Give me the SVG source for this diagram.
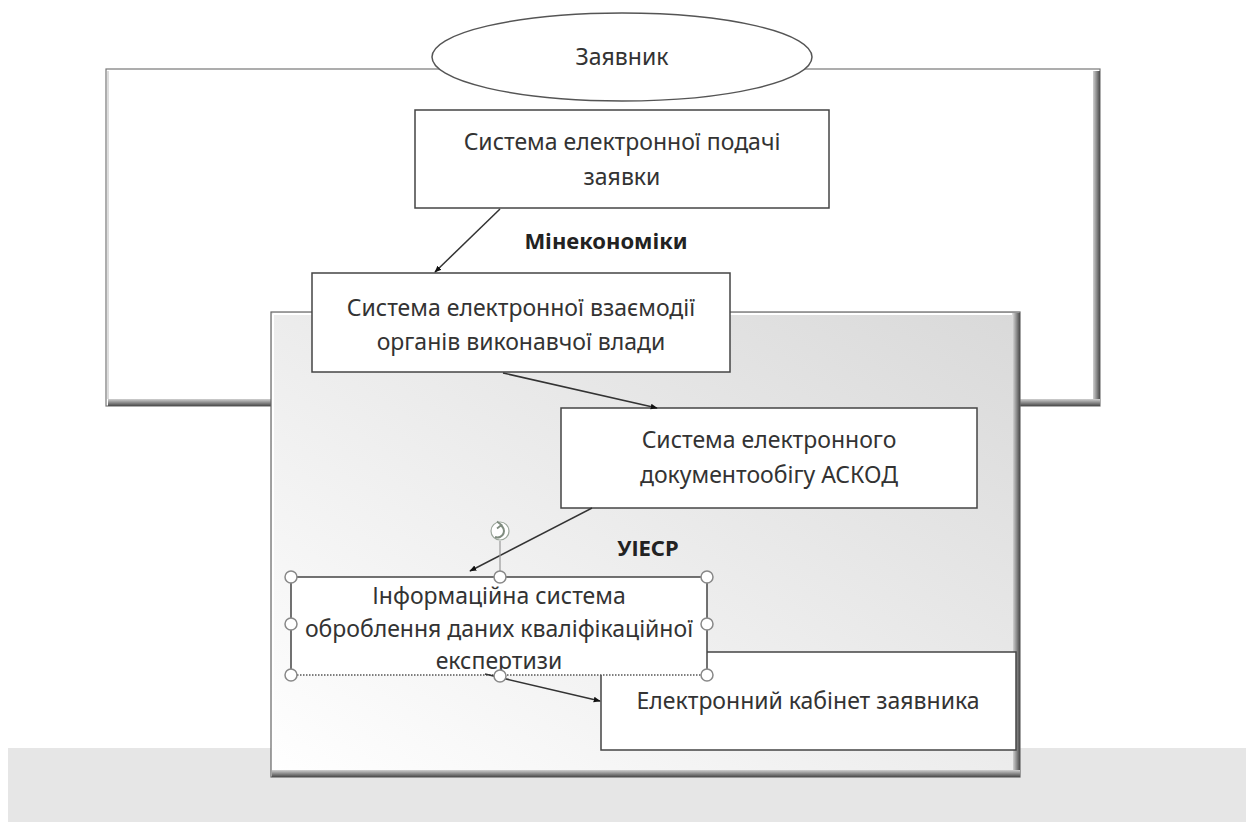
<svg xmlns="http://www.w3.org/2000/svg" width="1246" height="825" viewBox="0 0 1246 825">
<defs>
<linearGradient id="gFrame" x1="1" y1="0" x2="0" y2="1">
<stop offset="0" stop-color="#d9d9d9"/>
<stop offset="0.55" stop-color="#eeeeee"/>
<stop offset="1" stop-color="#ffffff"/>
</linearGradient>
<linearGradient id="gShV" x1="0" y1="0" x2="0" y2="1">
<stop offset="0" stop-color="#d0d0d0"/>
<stop offset="1" stop-color="#4a4a4a"/>
</linearGradient>
<linearGradient id="gShH" x1="0" y1="0" x2="1" y2="0">
<stop offset="0" stop-color="#d0d0d0"/>
<stop offset="1" stop-color="#4a4a4a"/>
</linearGradient>
<marker id="arr" viewBox="0 0 10 10" refX="9" refY="5" markerWidth="7" markerHeight="7" orient="auto" markerUnits="userSpaceOnUse">
<path d="M0,1 L10,5 L0,9 z" fill="#111"/>
</marker>
<style>
.box{fill:#fff;stroke:#444;stroke-width:1.5}
.t{font-family:"Noto Sans","Open Sans",sans-serif;font-size:23px;fill:#333;text-anchor:middle}
.b{font-weight:bold;fill:#222;font-size:22px}
.conn{stroke:#333;stroke-width:1.5;fill:none;marker-end:url(#arr)}
.h{fill:#fff;stroke:#888;stroke-width:1.5}
</style>
</defs>
<rect width="1246" height="825" fill="#fff"/>
<rect id="band" x="8" y="748" width="1238" height="74" fill="#e6e6e6"/>

<g id="outerFrame">
<rect x="106" y="69" width="994" height="337" fill="#fff" stroke="#777" stroke-width="1.2"/>
<rect x="1093" y="71" width="7" height="335" fill="url(#gShH)"/>
<rect x="108" y="399" width="992" height="7" fill="url(#gShV)"/>
<line x1="108" y1="71" x2="108" y2="399" stroke="#ddd" stroke-width="2"/>
</g>

<g id="innerFrame">
<rect x="271" y="312" width="749" height="465" fill="url(#gFrame)" stroke="#666" stroke-width="1.2"/>
<line x1="273" y1="314" x2="1012" y2="314" stroke="#fff" stroke-width="2"/>
<line x1="273" y1="314" x2="273" y2="770" stroke="#fff" stroke-width="2"/>
<rect x="1013" y="313" width="7" height="464" fill="url(#gShH)"/>
<rect x="272" y="770" width="748" height="7" fill="url(#gShV)"/>
</g>

<g id="applicant">
<ellipse cx="622" cy="57" rx="190" ry="44" fill="#fff" stroke="#555" stroke-width="1.5"/>
<text class="t" x="622" y="65">Заявник</text>
</g>

<g id="submitSystem">
<rect class="box" x="415" y="110" width="414" height="98"/>
<text class="t" x="622" y="150">Система електронної подачі</text>
<text class="t" x="622" y="185">заявки</text>
</g>

<g id="interactionSystem">
<rect class="box" x="312" y="273" width="418" height="99"/>
<text class="t" x="521" y="316">Система електронної взаємодії</text>
<text class="t" x="521" y="350">органів виконавчої влади</text>
</g>

<g id="askod">
<rect class="box" x="561" y="408" width="416" height="100"/>
<text class="t" x="769" y="448">Система електронного</text>
<text class="t" x="769" y="483">документообігу АСКОД</text>
</g>

<g id="cabinet">
<rect class="box" x="601" y="652" width="415" height="98"/>
<text class="t" x="808" y="709">Електронний кабінет заявника</text>
</g>

<g id="infoSystem">
<rect x="291" y="577" width="416" height="98" fill="#fff" stroke="none"/>
<path d="M291,675 V577 H707 V675" fill="none" stroke="#444" stroke-width="1.5"/>
<line x1="291" y1="675" x2="707" y2="675" stroke="#555" stroke-width="1.5" stroke-dasharray="1.5,1.5"/>
<text class="t" x="499" y="604">Інформаційна система</text>
<text class="t" x="499" y="637">оброблення даних кваліфікаційної</text>
<text class="t" x="499" y="669">експертизи</text>
</g>

<g id="connectors">
<line class="conn" x1="500" y1="209" x2="435" y2="272"/>
<line class="conn" x1="503" y1="373" x2="657" y2="408"/>
<line class="conn" x1="592" y1="508" x2="470" y2="571"/>
<line class="conn" x1="485" y1="674" x2="600" y2="701"/>
</g>

<g id="labels">
<text class="t b" x="606" y="249">Мінекономіки</text>
<text class="t b" x="648" y="556">УІЕСР</text>
</g>

<g id="selection">
<line x1="500" y1="541" x2="500" y2="571" stroke="#999" stroke-width="1.2"/>
<circle cx="500" cy="531" r="9" fill="#fff" stroke="#9aa59a" stroke-width="1.2"/>
<path d="M495,537 A6,6 0 1 0 500,525" fill="none" stroke="#7f8c7f" stroke-width="2"/>
<path d="M497,521.5 L501.5,525 L497,528.5" fill="none" stroke="#7f8c7f" stroke-width="1.8"/>
<circle class="h" cx="291" cy="577" r="6"/>
<circle class="h" cx="500" cy="577" r="6"/>
<circle class="h" cx="707" cy="577" r="6"/>
<circle class="h" cx="291" cy="624" r="6"/>
<circle class="h" cx="707" cy="624" r="6"/>
<circle class="h" cx="291" cy="675" r="6"/>
<circle class="h" cx="500" cy="676" r="6"/>
<circle class="h" cx="707" cy="675" r="6"/>
</g>
</svg>
